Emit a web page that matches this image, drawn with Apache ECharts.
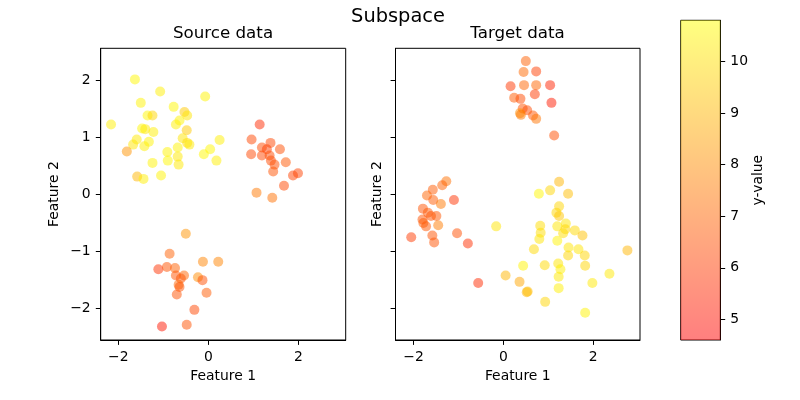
<!DOCTYPE html>
<html><head><meta charset="utf-8">
<script src="https://cdn.jsdelivr.net/npm/echarts@6/dist/echarts.min.js"></script>
<style>html,body{margin:0;padding:0;background:#fff}#c{width:800px;height:400px}</style>
</head><body><div id="c"></div>
<script>
// Source data (Feature 1, Feature 2, y-value)
const source_x = [
  -1.63,-1.07,-0.07,-1.50,-0.77,-0.53,-0.47,-1.35,-1.24,-2.16,-0.64,-0.72,-1.47,-1.40,-0.48,-1.22,-1.59,-0.57,0.25,-1.32,-1.67,-0.47,-0.42,-1.42,-0.68,0.04,-1.81,-0.91,-0.10,-0.68,-0.90,0.18,-1.24,-0.66,-1.58,-1.44,-1.05,
  1.14,0.96,1.38,1.19,1.30,1.59,0.95,1.19,1.36,1.39,1.72,1.47,1.44,1.88,1.99,1.68,1.07,1.42,
  -0.50,-0.86,-0.12,0.22,-1.11,-0.92,-0.74,-0.72,-0.54,-0.61,-0.23,-0.13,-0.66,-0.64,-0.04,-0.70,-0.31,-0.48,-1.03
];
const source_y = [
  2.01,1.80,1.71,1.60,1.53,1.44,1.38,1.38,1.38,1.22,1.29,1.22,1.15,1.14,1.12,1.09,0.96,0.98,0.95,0.92,0.87,0.90,0.87,0.84,0.82,0.79,0.75,0.74,0.70,0.66,0.59,0.59,0.55,0.52,0.31,0.27,0.33,
  1.22,0.96,0.90,0.82,0.79,0.79,0.70,0.68,0.68,0.59,0.56,0.52,0.40,0.33,0.37,0.15,0.03,-0.06,
  -0.69,-1.04,-1.18,-1.18,-1.31,-1.27,-1.29,-1.42,-1.42,-1.47,-1.45,-1.50,-1.58,-1.62,-1.72,-1.75,-2.02,-2.28,-2.31
];
const source_v = [
  10.6,10.4,10.5,10.5,10.6,9.5,10.2,10.6,9.8,10.4,10.5,10.4,10.6,10.3,9.5,10.4,10.3,10.2,10.4,10.5,10.2,10.0,10.3,10.4,10.5,10.6,8.2,10.5,10.6,10.3,10.6,10.4,10.5,10.3,9.0,10.4,10.5,
  5.6,6.3,6.3,6.4,6.1,6.5,6.3,6.3,6.4,6.4,6.7,6.5,6.6,6.2,6.2,6.3,7.5,7.3,
  8.2,6.9,7.8,7.8,5.8,6.6,6.9,6.6,7.0,6.6,8.0,6.5,7.0,6.6,6.8,6.6,6.3,6.6,5.1
];
// Target data
const target_x = [
  0.50,0.45,0.73,0.16,0.46,0.73,1.04,0.70,0.24,0.38,1.07,0.43,0.53,0.37,0.39,0.66,0.73,1.13,
  -1.27,-1.36,-1.57,-1.70,-1.56,-1.10,-1.39,-1.79,-1.68,-1.61,-1.49,-1.80,-1.78,-1.72,-1.45,-2.05,-1.03,-1.58,-1.54,-0.79,-0.56,
  1.24,1.04,0.79,1.44,1.24,1.18,1.24,-0.16,0.82,1.39,1.20,1.38,0.83,1.33,1.59,1.76,0.80,1.20,1.45,0.68,1.67,2.76,1.44,1.81,0.44,0.92,1.22,1.27,1.82,2.36,0.05,1.23,0.36,1.98,0.52,0.54,1.23,0.93,1.82
];
const target_y = [
  2.33,2.14,2.15,1.89,1.91,1.91,1.91,1.75,1.69,1.67,1.60,1.50,1.47,1.42,1.39,1.38,1.32,1.03,
  0.23,0.16,0.08,-0.02,-0.10,-0.10,-0.17,-0.25,-0.32,-0.38,-0.38,-0.44,-0.50,-0.56,-0.54,-0.75,-0.68,-0.72,-0.84,-0.86,-1.55,
  0.22,0.07,0.01,0.01,-0.21,-0.32,-0.38,-0.56,-0.55,-0.51,-0.56,-0.61,-0.67,-0.68,-0.63,-0.72,-0.78,-0.81,-0.93,-0.96,-0.96,-0.98,-1.07,-1.07,-1.25,-1.24,-1.21,-1.31,-1.25,-1.39,-1.42,-1.44,-1.53,-1.55,-1.71,-1.70,-1.64,-1.88,-2.07
];
const target_v = [
  6.9,7.1,6.1,5.9,7.0,7.0,5.4,6.0,6.8,6.4,5.2,6.6,6.4,8.0,7.5,6.7,7.4,6.5,
  7.3,6.9,6.8,7.0,6.8,5.8,7.5,6.6,6.7,6.6,6.7,6.6,6.8,6.7,7.6,6.0,6.5,6.6,6.6,5.7,5.6,
  9.0,9.8,10.6,9.2,9.8,9.8,9.4,10.2,10.0,10.2,10.2,9.8,10.0,10.0,9.9,9.3,10.2,10.5,10.2,9.9,10.2,9.0,9.8,9.8,10.5,9.9,10.2,10.4,9.8,10.3,9.0,10.3,8.6,10.3,9.0,9.2,10.4,9.8,10.5
];
const xTicks = [-2, 0, 2];
const yTicks = [-2, -1, 0, 1, 2];
const cbTicks = [5, 6, 7, 8, 9, 10];
const cbRange = [4.6, 10.8];
const xRange = [-2.39, 3.05];
const yRange = [-2.547, 2.554];

const FONT = 'DejaVu Sans';
const minus = v => String(v).replace('-', '\u2212');
const zip = (a, b, c) => a.map((v, i) => [v, b[i], c[i]]);

function valueAxis(gi, range, ticks, name, nameGap, showLabels, extra) {
  return Object.assign({
    type: 'value', gridIndex: gi, min: range[0], max: range[1],
    name: name, nameLocation: 'middle', nameGap: nameGap,
    nameTextStyle: { fontFamily: FONT, fontSize: 13.9, color: '#000' },
    axisLine: { show: true, onZero: false, lineStyle: { color: '#000', width: 1 } },
    axisTick: { show: true, length: 4.9, customValues: ticks, lineStyle: { color: '#000', width: 1 } },
    axisLabel: { show: showLabels, customValues: ticks, margin: 10, fontFamily: FONT, fontSize: 13.9, color: '#000', formatter: minus },
    splitLine: { show: false }
  }, extra || {});
}

const chart = echarts.init(document.getElementById('c'), null, { renderer: 'canvas' });
const gridStyle = { show: true, borderColor: '#000', borderWidth: 1, backgroundColor: 'transparent', containLabel: false };
chart.setOption({
  animation: false,
  backgroundColor: '#fff',
  title: [
    { text: 'Subspace', left: 398, top: 7, textAlign: 'center', padding: 0, textStyle: { fontFamily: FONT, fontSize: 19.4, fontWeight: 'normal', color: '#000' } },
    { text: 'Source data', left: 223, top: 25, textAlign: 'center', padding: 0, textStyle: { fontFamily: FONT, fontSize: 16.7, fontWeight: 'normal', color: '#000' } },
    { text: 'Target data', left: 517.5, top: 25, textAlign: 'center', padding: 0, textStyle: { fontFamily: FONT, fontSize: 16.7, fontWeight: 'normal', color: '#000' } }
  ],
  grid: [
    Object.assign({ left: 100.7, top: 48.3, width: 245, height: 291.7 }, gridStyle),
    Object.assign({ left: 395.5, top: 48.3, width: 244.5, height: 291.7 }, gridStyle),
    Object.assign({ left: 680.7, top: 20.3, width: 39.6, height: 319.7 }, gridStyle)
  ],
  xAxis: [
    valueAxis(0, xRange, xTicks, 'Feature 1', 28, true),
    valueAxis(1, [-2.40, 3.04], xTicks, 'Feature 1', 28, true),
    { type: 'category', gridIndex: 2, data: ['cb'], show: false, boundaryGap: true }
  ],
  yAxis: [
    valueAxis(0, yRange, yTicks, 'Feature 2', 39, true),
    valueAxis(1, yRange, yTicks, 'Feature 2', 11.5, false),
    valueAxis(2, cbRange, cbTicks, 'y-value', 31, true, { position: 'right' })
  ],
  visualMap: {
    type: 'continuous', show: false, min: cbRange[0], max: cbRange[1], dimension: 2,
    seriesIndex: [0, 1], inRange: { color: ['#ff0000', '#ffff00'] }
  },
  series: [
    { type: 'scatter', xAxisIndex: 0, yAxisIndex: 0, symbolSize: 10, data: zip(source_x, source_y, source_v), itemStyle: { opacity: 0.5 } },
    { type: 'scatter', xAxisIndex: 1, yAxisIndex: 1, symbolSize: 10, data: zip(target_x, target_y, target_v), itemStyle: { opacity: 0.5 } },
    { type: 'bar', xAxisIndex: 2, yAxisIndex: 2, stack: 'cb', barWidth: '100%', silent: true, data: [cbRange[0]], itemStyle: { color: 'rgba(0,0,0,0)' } },
    { type: 'bar', xAxisIndex: 2, yAxisIndex: 2, stack: 'cb', barWidth: '100%', silent: true, data: [cbRange[1] - cbRange[0]],
      itemStyle: { color: new echarts.graphic.LinearGradient(0, 0, 0, 1, [
        { offset: 0, color: 'rgba(255,255,0,0.5)' }, { offset: 1, color: 'rgba(255,0,0,0.5)' }]) } }
  ]
});
</script></body></html>
